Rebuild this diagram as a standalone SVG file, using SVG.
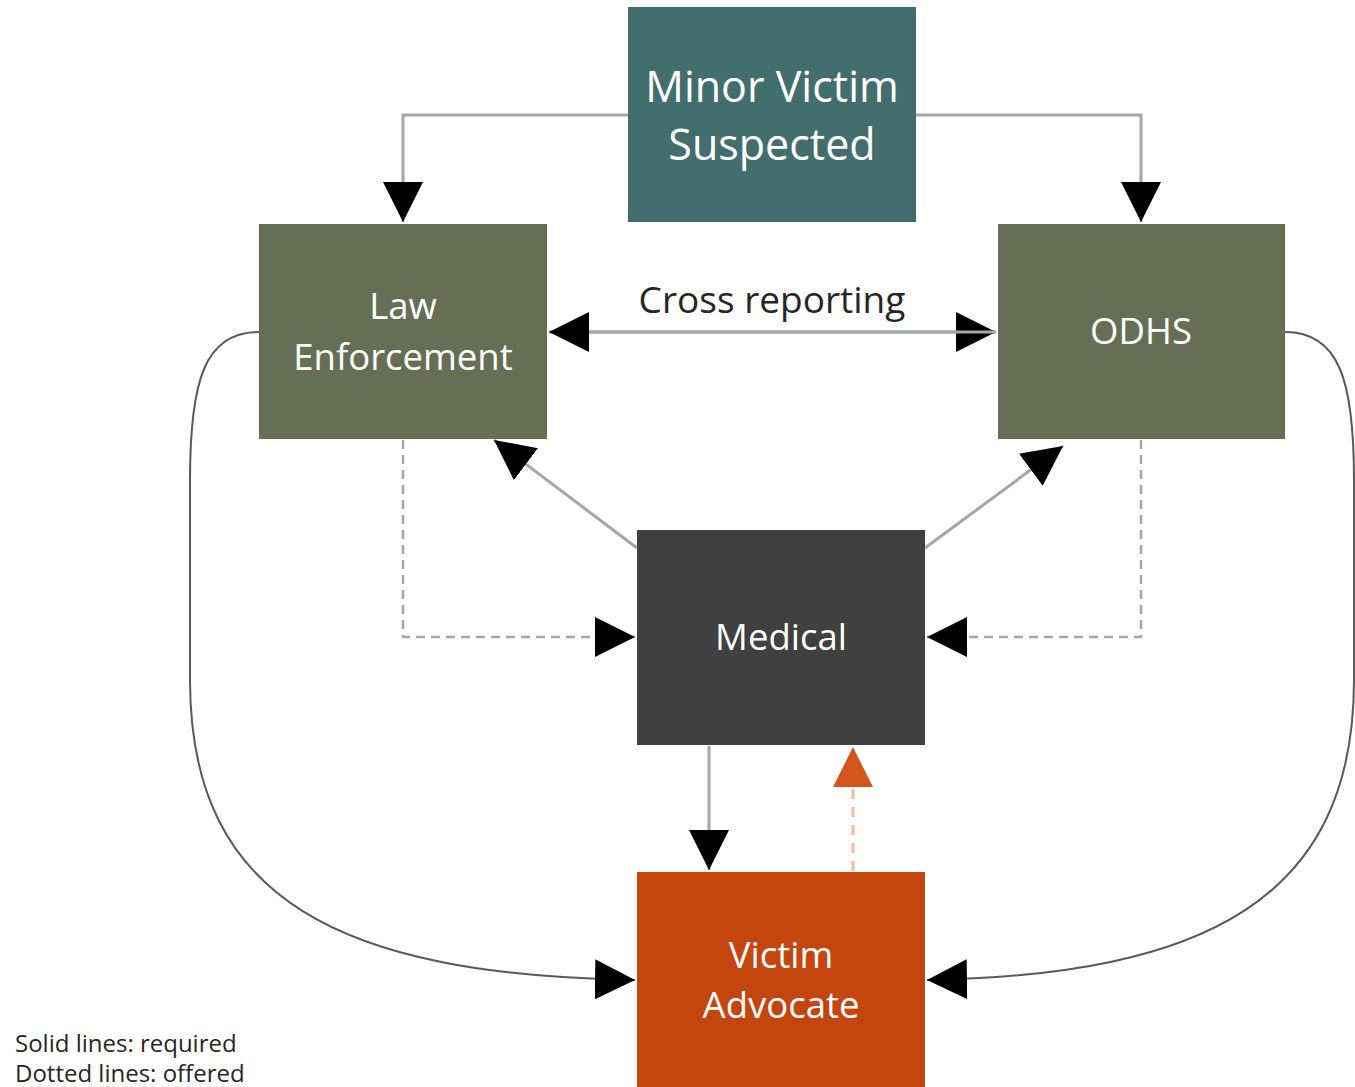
<svg xmlns="http://www.w3.org/2000/svg" width="1355" height="1087" viewBox="0 0 1355 1087">
<style>
.box{stroke:none}
.t{font-family:"Open Sans","Noto Sans","DejaVu Sans",sans-serif;fill:#ffffff;text-anchor:middle}
.c{fill:none;stroke:#A6A6A6;stroke-width:3}
.d{fill:none;stroke:#A6A6A6;stroke-width:2.5;stroke-dasharray:9,6}
.cv{fill:none;stroke:#595959;stroke-width:2}
.lbl{font-family:"Open Sans","Noto Sans","DejaVu Sans",sans-serif;fill:#262626}
</style>
<defs>
<marker id="ah" markerUnits="userSpaceOnUse" markerWidth="40" markerHeight="40" refX="38" refY="19" orient="auto" viewBox="0 0 38 38">
<path d="M0,0 L38,19 L0,38 z" fill="#000"/>
</marker>
<marker id="aho" markerUnits="userSpaceOnUse" markerWidth="40" markerHeight="40" refX="38" refY="19" orient="auto" viewBox="0 0 38 38">
<path d="M0,0 L38,19 L0,38 z" fill="#D4541C"/>
</marker>
</defs>
<rect width="1355" height="1087" fill="#ffffff"/>
<g id="connectors">
<path class="c" d="M628,115 L403,115 L403,222" marker-end="url(#ah)"/>
<path class="c" d="M916,115 L1141,115 L1141,222" marker-end="url(#ah)"/>
<path class="c" d="M549,332 L996,332" marker-end="url(#ah)"/>
<path class="c" d="M996,332 L549,332" marker-end="url(#ah)"/>
<path class="c" d="M637,548 L494,440" marker-end="url(#ah)"/>
<path class="c" d="M925,548 L1063,446" marker-end="url(#ah)"/>
<path class="d" d="M403,440 L403,637 L635,637" marker-end="url(#ah)"/>
<path class="d" d="M1141,440 L1141,637 L927,637" marker-end="url(#ah)"/>
<path class="c" d="M709,746 L709,870" marker-end="url(#ah)"/>
<path d="M853,871 L853,747" fill="none" stroke="#F5B9A0" stroke-width="3" stroke-dasharray="10,8" marker-end="url(#aho)"/>
<path class="cv" d="M259,332 C205,332 190,380 190,480 L190,680 C190,900 340,975 635,980" marker-end="url(#ah)"/>
<path class="cv" d="M1285,332 C1339,332 1354,380 1354,480 L1354,680 C1354,900 1204,975 927,980" marker-end="url(#ah)"/>
<text class="lbl" x="772" y="313" font-size="37" text-anchor="middle">Cross reporting</text>
</g>
<g id="minor-victim">
<rect class="box" x="628" y="7" width="288" height="215" fill="#436E6E"/>
<text class="t" x="772" y="102" font-size="43">Minor Victim</text>
<text class="t" x="772" y="160" font-size="43">Suspected</text>
</g>
<g id="law-enforcement">
<rect class="box" x="259" y="224" width="288" height="215" fill="#666F56"/>
<text class="t" x="403" y="319" font-size="36.5">Law</text>
<text class="t" x="403" y="370" font-size="36.5">Enforcement</text>
</g>
<g id="odhs">
<rect class="box" x="998" y="224" width="287" height="215" fill="#666F56"/>
<text class="t" x="1141" y="344" font-size="36.5">ODHS</text>
</g>
<g id="medical">
<rect class="box" x="637" y="530" width="288" height="215" fill="#404040"/>
<text class="t" x="781" y="650" font-size="36.5">Medical</text>
</g>
<g id="victim-advocate">
<rect class="box" x="637" y="872" width="288" height="215" fill="#C5450F"/>
<text class="t" x="781" y="968" font-size="36.5">Victim</text>
<text class="t" x="781" y="1018" font-size="36.5">Advocate</text>
</g>
<g id="legend">
<text class="lbl" x="15" y="1052" font-size="24">Solid lines: required</text>
<text class="lbl" x="15" y="1082" font-size="24">Dotted lines: offered</text>
</g>
</svg>
